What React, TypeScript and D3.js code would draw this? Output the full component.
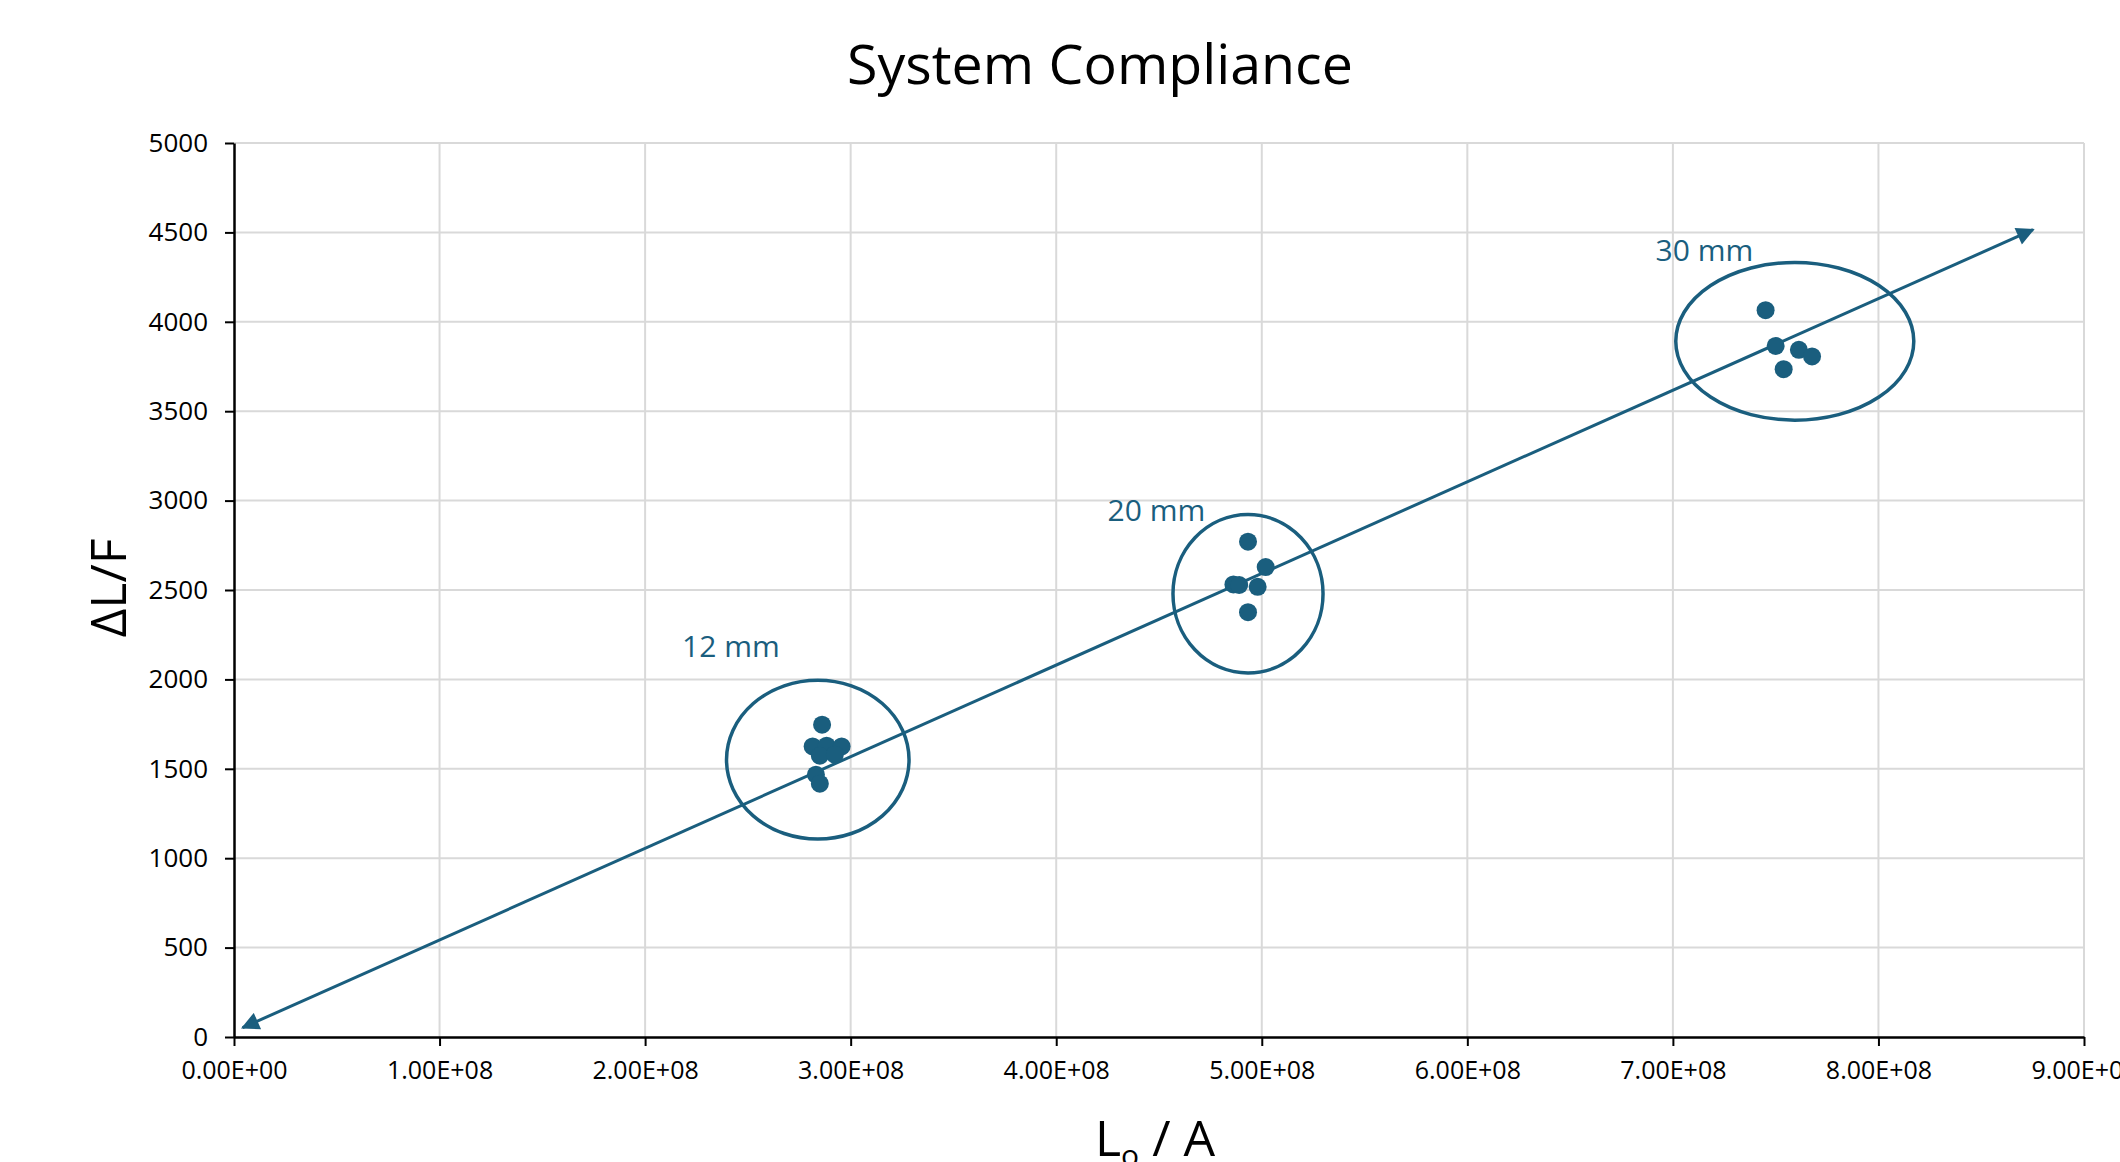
import React, { useEffect, useRef } from 'react';
import * as d3 from 'd3';

const xTicks = [0, 1e8, 2e8, 3e8, 4e8, 5e8, 6e8, 7e8, 8e8, 9e8];
const yTicks = [0, 500, 1000, 1500, 2000, 2500, 3000, 3500, 4000, 4500, 5000];

const pts12: [number, number][] = [
  [2.861e8, 1747], [2.815e8, 1625], [2.883e8, 1629], [2.956e8, 1625],
  [2.85e8, 1573], [2.923e8, 1579], [2.831e8, 1467], [2.85e8, 1417],
];
const pts20: [number, number][] = [
  [4.933e8, 2770], [5.019e8, 2628], [4.862e8, 2531], [4.89e8, 2528],
  [4.98e8, 2518], [4.933e8, 2376],
];
const pts30: [number, number][] = [
  [7.451e8, 4065], [7.5e8, 3865], [7.613e8, 3843], [7.677e8, 3806], [7.539e8, 3735],
];

// cluster rings: center x, center y, radius x, radius y (data units)
const clusters = [
  { name: '12 mm', cx: 2.84e8, cy: 1551, rx: 0.444e8, ry: 444, lx: 2.18e8, ly: 2128 },
  { name: '20 mm', cx: 4.933e8, cy: 2479, rx: 0.365e8, ry: 443, lx: 4.25e8, ly: 2884 },
  { name: '30 mm', cx: 7.593e8, cy: 3891, rx: 0.579e8, ry: 441, lx: 6.916e8, ly: 4341 },
];

const trend: [number, number][] = [[0.042e8, 52], [8.752e8, 4515]];

const W = 2120;
const H = 1162;
const BLUE = '#1a5e7e';
const FONT = '"Open Sans", sans-serif';

const App: React.FC = () => {
  const ref = useRef<SVGSVGElement | null>(null);

  useEffect(() => {
    const svg = d3.select(ref.current);
    svg.selectAll('*').remove();

    const x = d3.scaleLinear().domain([0, 9e8]).range([234, 2084]);
    const y = d3.scaleLinear().domain([0, 5000]).range([1037, 143]);

    const defs = svg.append('defs');
    ['end', 'start'].forEach(k => {
      defs.append('marker')
        .attr('id', 'arr-' + k)
        .attr('viewBox', '0 0 10 10')
        .attr('refX', 9).attr('refY', 5)
        .attr('markerWidth', 7).attr('markerHeight', 6)
        .attr('markerUnits', 'strokeWidth')
        .attr('orient', k === 'end' ? 'auto' : 'auto-start-reverse')
        .append('path').attr('d', 'M0,0 L10,5 L0,10 Z').attr('fill', BLUE);
    });

    // grid
    svg.append('g').selectAll('line').data(xTicks.slice(1)).enter().append('line')
      .attr('x1', d => x(d)).attr('x2', d => x(d))
      .attr('y1', y(0)).attr('y2', y(5000))
      .attr('stroke', '#d9d9d9').attr('stroke-width', 2);
    svg.append('g').selectAll('line').data(yTicks.slice(1)).enter().append('line')
      .attr('x1', x(0)).attr('x2', x(9e8))
      .attr('y1', d => y(d)).attr('y2', d => y(d))
      .attr('stroke', '#d9d9d9').attr('stroke-width', 2);

    // axes
    const xAxis = svg.append('g').attr('transform', `translate(0,${y(0)})`)
      .call(d3.axisBottom(x).tickValues(xTicks).tickSize(9).tickSizeOuter(0)
        .tickFormat(d => (+d).toExponential(2).toUpperCase().replace(/E([+-])(\d)$/, 'E$10$2')));
    xAxis.select('.domain').attr('stroke', '#000').attr('stroke-width', 2.5);
    xAxis.selectAll('.tick line').attr('stroke', '#000').attr('stroke-width', 2);
    xAxis.selectAll('.tick text').attr('font-family', FONT).attr('font-size', 25)
      .attr('fill', '#000').attr('dy', '1.2em');

    const yAxis = svg.append('g').attr('transform', `translate(${x(0)},0)`)
      .call(d3.axisLeft(y).tickValues(yTicks).tickSize(9).tickSizeOuter(0)
        .tickFormat(d3.format('d')));
    yAxis.select('.domain').attr('stroke', '#000').attr('stroke-width', 2.5);
    yAxis.selectAll('.tick line').attr('stroke', '#000').attr('stroke-width', 2);
    yAxis.selectAll('.tick text').attr('font-family', FONT).attr('font-size', 26)
      .attr('fill', '#000').attr('x', -26);

    // trend arrow
    svg.append('path')
      .attr('d', d3.line<[number, number]>().x(d => x(d[0])).y(d => y(d[1]))(trend))
      .attr('stroke', BLUE).attr('stroke-width', 3).attr('fill', 'none')
      .attr('marker-end', 'url(#arr-end)').attr('marker-start', 'url(#arr-start)');

    // clusters
    svg.append('g').selectAll('ellipse').data(clusters).enter().append('ellipse')
      .attr('cx', d => x(d.cx)).attr('cy', d => y(d.cy))
      .attr('rx', d => x(d.rx) - x(0)).attr('ry', d => y(0) - y(d.ry))
      .attr('fill', 'none').attr('stroke', BLUE).attr('stroke-width', 3.5);
    svg.append('g').selectAll('text').data(clusters).enter().append('text')
      .attr('x', d => x(d.lx)).attr('y', d => y(d.ly))
      .attr('font-family', FONT).attr('font-size', 30).attr('fill', BLUE)
      .text(d => d.name);

    svg.append('g').selectAll('circle').data([...pts12, ...pts20, ...pts30]).enter().append('circle')
      .attr('cx', d => x(d[0])).attr('cy', d => y(d[1])).attr('r', 9).attr('fill', BLUE);

    // titles
    svg.append('text').attr('x', 1100).attr('y', 84).attr('text-anchor', 'middle')
      .attr('font-family', FONT).attr('font-size', 55.5).attr('fill', '#000')
      .text('System Compliance');
    svg.append('text').attr('transform', 'translate(126,588) rotate(-90)')
      .attr('text-anchor', 'middle').attr('font-family', FONT).attr('font-size', 50)
      .attr('fill', '#000').text('ΔL/F');
    const xl = svg.append('text').attr('x', 1095).attr('y', 1156)
      .attr('font-family', FONT).attr('font-size', 50).attr('fill', '#000');
    xl.append('tspan').text('L');
    xl.append('tspan').attr('font-size', 30).attr('dy', 10).text('o');
    xl.append('tspan').attr('dy', -10).text(' / A');
  }, []);

  return (
    <svg ref={ref} width={W} height={H}
      style={{ position: 'fixed', left: 0, top: 0, background: '#fff' }} />
  );
};

export default App;
